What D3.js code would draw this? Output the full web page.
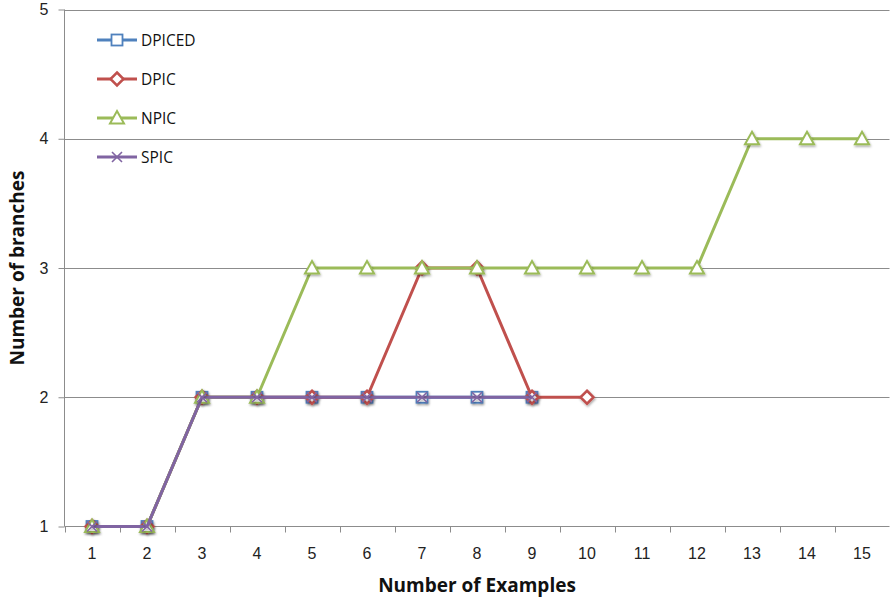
<!DOCTYPE html>
<html>
<head>
<meta charset="utf-8">
<script src="https://cdn.jsdelivr.net/npm/d3@7/dist/d3.min.js"></script>
<style>
  html, body { margin: 0; padding: 0; background: #fff; }
  svg text { font-family: "Open Sans", "Liberation Sans", sans-serif; }
  svg text.num { font-family: "Liberation Sans", Arial, sans-serif; }
</style>
</head>
<body>
<svg id="chart" width="890" height="602"></svg>
<script>
// Number of training examples on the x axis
const examples = [1, 2, 3, 4, 5, 6, 7, 8, 9, 10, 11, 12, 13, 14, 15];
const yTicks = [1, 2, 3, 4, 5];

// Branch counts per method (one value per example count)
const dpiced = [1, 1, 2, 2, 2, 2, 2, 2, 2];
const dpic   = [1, 1, 2, 2, 2, 2, 3, 3, 2, 2];
const npic   = [1, 1, 2, 2, 3, 3, 3, 3, 3, 3, 3, 3, 4, 4, 4];
const spic   = [1, 1, 2, 2, 2, 2, 2, 2, 2];

const seriesNames = ["DPICED", "DPIC", "NPIC", "SPIC"];
const seriesColors = ["#4F81BD", "#C0504D", "#9BBB59", "#8064A2"];
const seriesMarkers = ["square", "diamond", "triangle", "cross"];
const seriesValues = [dpiced, dpic, npic, spic];

const series = seriesNames.map((name, i) => ({
  name, color: seriesColors[i], marker: seriesMarkers[i],
  points: seriesValues[i].map((v, j) => ({ x: examples[j], y: v }))
}));

const svg = d3.select("#chart");
const plotLeft = 64.5, plotRight = 889.5, plotTop = 9.5, plotBottom = 526.5;

const x = d3.scaleBand().domain(examples).range([plotLeft, plotRight]).padding(0);
const y = d3.scaleLinear().domain([1, 5]).range([plotBottom, plotTop]);
const cx = d => x(d) + x.bandwidth() / 2;

// Soft shadow under the markers
const defs = svg.append("defs");
const f = defs.append("filter").attr("id", "shadow")
  .attr("x", "-50%").attr("y", "-50%").attr("width", "200%").attr("height", "200%");
f.append("feDropShadow").attr("dx", 0.8).attr("dy", 1.5)
  .attr("stdDeviation", 1.2).attr("flood-color", "#000").attr("flood-opacity", 0.35);

// Horizontal gridlines
svg.append("g").selectAll("line").data(yTicks.filter(t => t > 1)).join("line")
  .attr("x1", plotLeft).attr("x2", plotRight)
  .attr("y1", d => Math.round(y(d)) + 0.5).attr("y2", d => Math.round(y(d)) + 0.5)
  .attr("stroke", "#8c8c8c").attr("stroke-width", 1);

// Y axis
const yAxis = svg.append("g").attr("transform", `translate(${plotLeft},0)`)
  .call(d3.axisLeft(y).tickValues(yTicks).tickSize(6).tickPadding(10).tickFormat(d3.format("d")));
yAxis.attr("font-family", null);
yAxis.select(".domain").attr("stroke", "#8c8c8c").attr("d", `M0,${plotTop}V${plotBottom}`);
yAxis.selectAll(".tick line").attr("stroke", "#8c8c8c");
yAxis.selectAll(".tick text").attr("class", "num").attr("font-size", 16).attr("fill", "#222");

// X axis with ticks between categories
const xAxisG = svg.append("g").attr("transform", `translate(0,${plotBottom})`);
xAxisG.append("line").attr("x1", plotLeft).attr("x2", plotRight).attr("stroke", "#8c8c8c");
const boundaries = examples.map(d => x(d)).concat([plotRight]);
xAxisG.selectAll("line.tk").data(boundaries).join("line").attr("class", "tk")
  .attr("x1", d => Math.round(d) + 0.5).attr("x2", d => Math.round(d) + 0.5)
  .attr("y1", 0).attr("y2", 6).attr("stroke", "#8c8c8c");
xAxisG.selectAll("text").data(examples).join("text").attr("class", "num")
  .attr("x", d => cx(d)).attr("y", 32)
  .attr("text-anchor", "middle").attr("font-size", 16).attr("fill", "#222")
  .text(d => d);

// Axis titles
svg.append("text").attr("x", 477).attr("y", 592).attr("text-anchor", "middle")
  .attr("font-size", 19).attr("font-weight", "bold").attr("fill", "#111")
  .text("Number of Examples");
svg.append("text").attr("transform", "translate(24,268) rotate(-90)")
  .attr("text-anchor", "middle").attr("font-size", 19).attr("font-weight", "bold")
  .attr("fill", "#111").text("Number of branches");

// Marker drawing helper
function drawMarker(g, type, color) {
  if (type === "square") {
    g.append("rect").attr("x", -5.5).attr("y", -5.5).attr("width", 11).attr("height", 11)
      .attr("fill", "#fff").attr("stroke", color).attr("stroke-width", 1.8);
  } else if (type === "diamond") {
    g.append("path").attr("d", "M0,-6.5L6.5,0L0,6.5L-6.5,0Z")
      .attr("fill", "#fff").attr("stroke", color).attr("stroke-width", 2.5);
  } else if (type === "triangle") {
    g.append("path").attr("d", "M0,-7L7,5.5L-7,5.5Z")
      .attr("fill", "#fff").attr("stroke", color).attr("stroke-width", 2);
  } else if (type === "cross") {
    g.append("path").attr("d", "M-5,-5L5,5M-5,5L5,-5")
      .attr("fill", "none").attr("stroke", color).attr("stroke-width", 1.6);
  }
}

const line = d3.line().x(d => cx(d.x)).y(d => y(d.y));

series.forEach(s => {
  const g = svg.append("g");
  g.append("path").datum(s.points).attr("d", line)
    .attr("fill", "none").attr("stroke", s.color).attr("stroke-width", 3)
    .attr("stroke-linejoin", "round");
  g.selectAll("g.m").data(s.points).join("g").attr("class", "m")
    .attr("transform", d => `translate(${cx(d.x)},${y(d.y)})`)
    .attr("filter", "url(#shadow)")
    .each(function () { drawMarker(d3.select(this), s.marker, s.color); });
});

// Legend
const legend = svg.append("g");
series.forEach((s, i) => {
  const ly = 40 + i * 39;
  const lg = legend.append("g");
  lg.append("line").attr("x1", 97).attr("x2", 137).attr("y1", ly).attr("y2", ly)
    .attr("stroke", s.color).attr("stroke-width", 3);
  const mg = lg.append("g").attr("transform", `translate(117,${ly})`);
  drawMarker(mg, s.marker, s.color);
  lg.append("text").attr("x", 141).attr("y", ly + 5.5).attr("font-size", 15.5)
    .attr("fill", "#111").text(s.name);
});
</script>
</body>
</html>
